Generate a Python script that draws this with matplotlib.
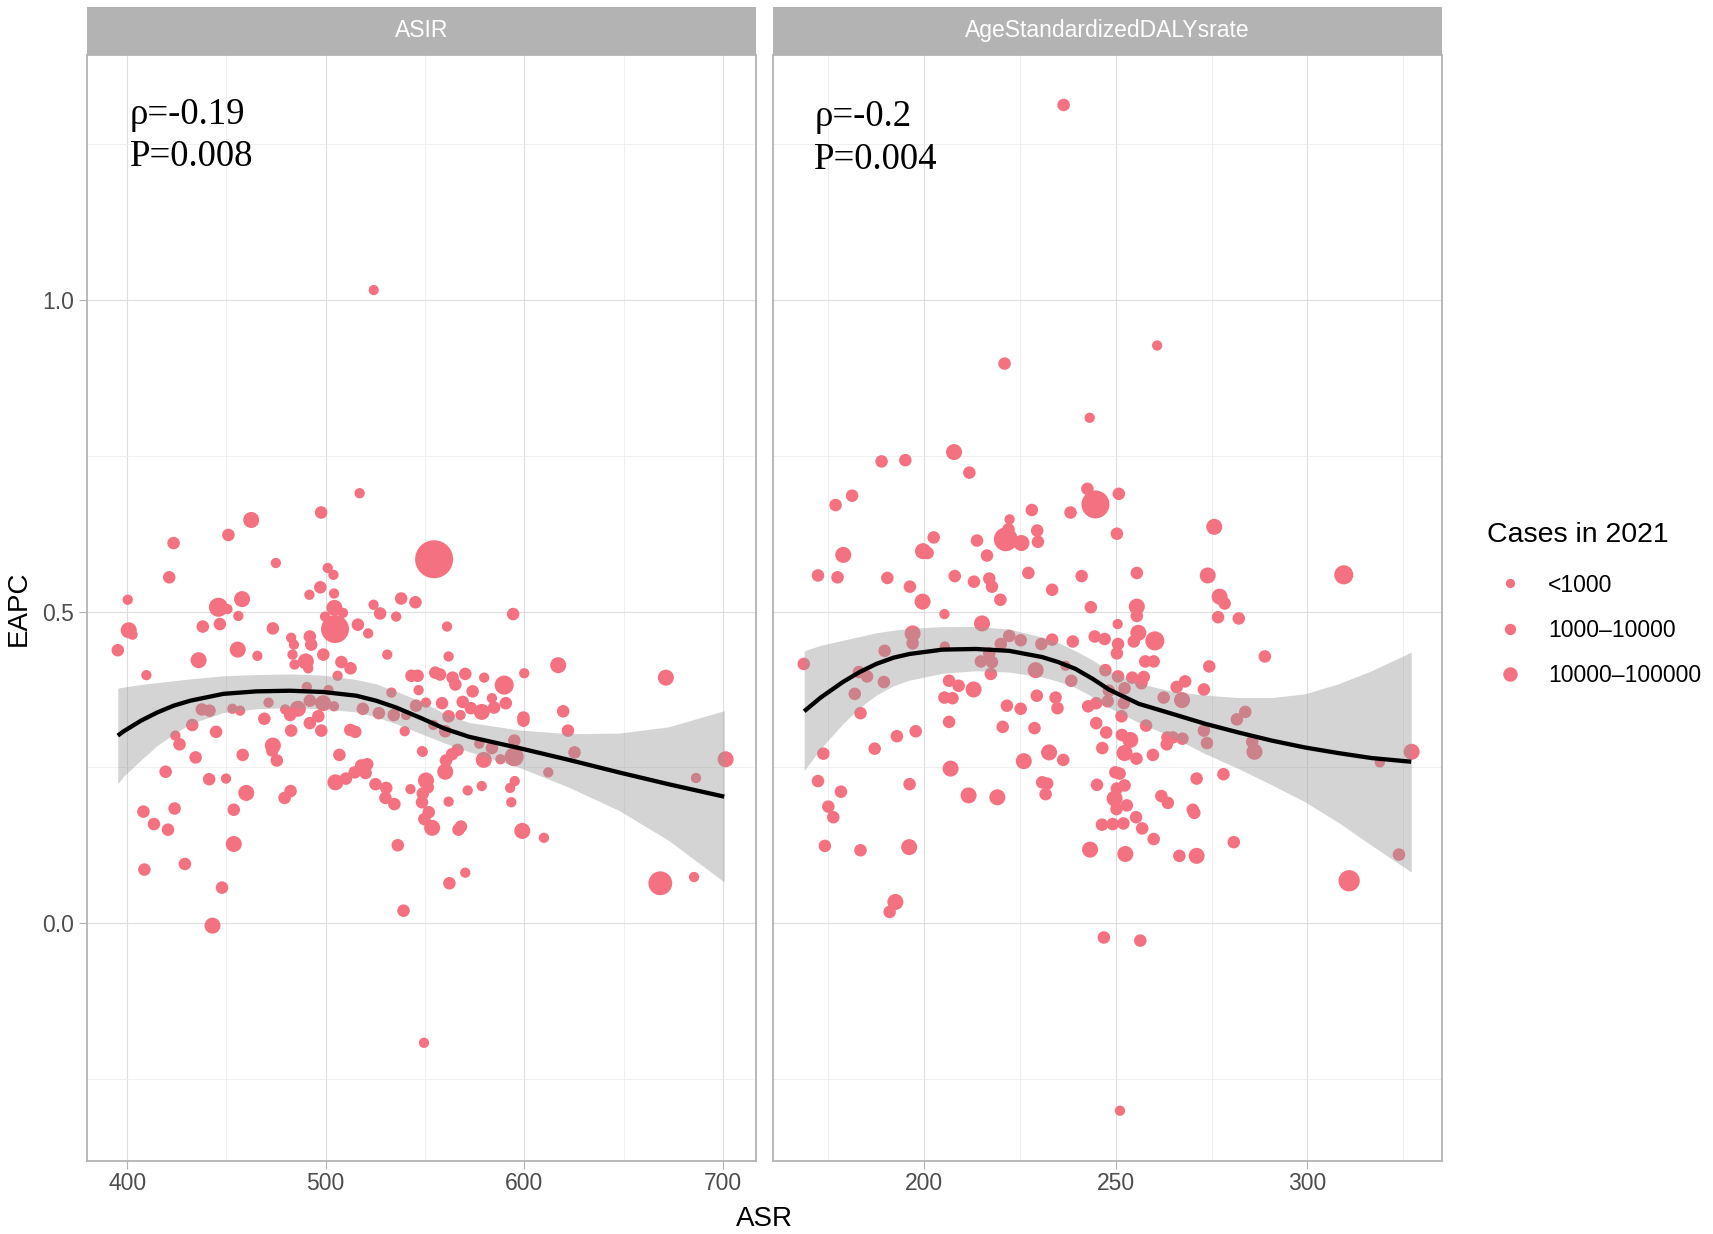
import numpy as np
import matplotlib
matplotlib.use('Agg')
import matplotlib.pyplot as plt
from matplotlib.lines import Line2D

# ---- ASIR panel: ASR vs EAPC, cases in 2021 ----
asir_x = [517.1, 497.7, 462.5, 451.0, 423.4, 474.9, 421.2, 501.0, 503.9, 554.6,
          497.3, 491.8, 504.2, 400.3, 446.0, 450.5, 457.9, 456.0, 524.1, 538.0,
          545.2, 527.4, 535.5, 504.4, 508.7, 499.7, 504.7, 516.2, 521.4, 400.8,
          402.7, 438.1, 446.7, 473.4, 395.3, 455.7, 436.0, 465.6, 482.6, 484.0,
          492.0, 492.7, 483.3, 490.0, 484.3, 491.2, 498.8, 507.9, 512.5, 506.0,
          531.0, 409.7, 543.2, 546.3, 546.8, 533.1, 490.5, 501.4, 471.2, 437.6,
          441.5, 453.0, 456.9, 479.6, 486.0, 492.0, 498.7, 504.2, 518.7, 526.8,
          534.3, 540.5, 545.5, 550.5, 432.8, 469.1, 482.1, 492.0, 496.3, 424.3,
          426.4, 444.8, 434.5, 419.4, 458.2, 473.4, 473.1, 475.4, 482.6, 497.8,
          512.4, 514.9, 539.8, 506.9, 548.5, 441.3, 449.8, 460.0, 479.3, 482.3,
          504.9, 510.2, 514.6, 517.9, 520.9, 520.1, 525.1, 530.5, 530.1, 534.6,
          542.7, 408.2, 423.9, 413.5, 420.6, 453.7, 453.7, 408.7, 429.1, 447.8,
          443.0, 536.3, 539.2, 554.2, 560.2, 548.9, 560.6, 563.6, 566.4, 560.2,
          577.3, 583.7, 579.6, 588.0, 595.0, 594.9, 599.6, 622.0, 625.3, 612.1,
          701.4, 686.5, 550.5, 551.4, 548.9, 548.5, 551.9, 549.7, 553.6, 561.9,
          571.5, 578.6, 595.2, 592.9, 593.5, 568.1, 566.9, 599.0, 609.9, 570.3,
          562.3, 668.5, 685.5, 594.4, 561.1, 561.9, 617.1, 600.0, 671.3, 555.2,
          557.6, 563.9, 570.3, 565.3, 579.8, 574.0, 589.9, 583.7, 569.0, 573.1,
          558.6, 584.8, 578.6, 590.7, 561.9, 567.9, 599.6, 619.6, 524.2, 549.5]
asir_eapc = [0.690, 0.659, 0.647, 0.623, 0.610, 0.578, 0.555, 0.570, 0.559, 0.584,
             0.539, 0.527, 0.529, 0.519, 0.507, 0.504, 0.520, 0.493, 0.511, 0.521,
             0.515, 0.497, 0.492, 0.506, 0.498, 0.492, 0.472, 0.479, 0.465, 0.470,
             0.463, 0.476, 0.480, 0.473, 0.438, 0.439, 0.422, 0.429, 0.458, 0.447,
             0.460, 0.447, 0.431, 0.420, 0.415, 0.409, 0.431, 0.419, 0.409, 0.397,
             0.431, 0.398, 0.397, 0.397, 0.374, 0.370, 0.379, 0.374, 0.354, 0.343,
             0.341, 0.344, 0.341, 0.343, 0.344, 0.357, 0.353, 0.348, 0.344, 0.337,
             0.334, 0.334, 0.349, 0.354, 0.318, 0.328, 0.334, 0.321, 0.332, 0.301,
             0.287, 0.307, 0.266, 0.243, 0.270, 0.285, 0.277, 0.261, 0.309, 0.309,
             0.310, 0.307, 0.308, 0.270, 0.276, 0.231, 0.232, 0.209, 0.201, 0.212,
             0.226, 0.232, 0.242, 0.253, 0.255, 0.241, 0.223, 0.217, 0.201, 0.191,
             0.215, 0.179, 0.184, 0.159, 0.150, 0.182, 0.127, 0.086, 0.095, 0.057,
             -0.004, 0.125, 0.020, 0.318, 0.308, 0.275, 0.261, 0.271, 0.278, 0.243,
             0.288, 0.281, 0.262, 0.263, 0.293, 0.267, 0.325, 0.309, 0.274, 0.242,
             0.263, 0.233, 0.229, 0.218, 0.208, 0.194, 0.178, 0.167, 0.153, 0.195,
             0.213, 0.220, 0.228, 0.217, 0.194, 0.155, 0.150, 0.148, 0.137, 0.081,
             0.064, 0.064, 0.074, 0.496, 0.476, 0.428, 0.414, 0.401, 0.394, 0.402,
             0.399, 0.394, 0.400, 0.383, 0.394, 0.372, 0.382, 0.361, 0.355, 0.345,
             0.353, 0.346, 0.339, 0.353, 0.332, 0.334, 0.330, 0.340, 1.016, -0.192]
asir_cases = [500, 3000, 20000, 3000, 3000, 500, 3000, 500, 500, 100000,
              3000, 500, 500, 500, 30000, 500, 20000, 500, 500, 3000,
              3000, 3000, 500, 20000, 500, 500, 63000, 3000, 500, 20000,
              500, 3000, 3000, 3000, 3000, 20000, 20000, 500, 500, 500,
              3000, 3000, 500, 20000, 500, 500, 3000, 3000, 3000, 500,
              500, 500, 3000, 3000, 500, 500, 500, 500, 500, 3000,
              3000, 500, 500, 500, 20000, 3000, 20000, 500, 3000, 3000,
              3000, 500, 3000, 500, 3000, 3000, 3000, 3000, 3000, 500,
              3000, 3000, 3000, 3000, 3000, 20000, 3000, 3000, 3000, 3000,
              3000, 3000, 500, 3000, 500, 3000, 500, 20000, 3000, 3000,
              20000, 3000, 3000, 3000, 3000, 3000, 3000, 3000, 3000, 3000,
              500, 3000, 3000, 3000, 3000, 3000, 20000, 3000, 3000, 3000,
              20000, 3000, 3000, 500, 3000, 500, 3000, 3000, 3000, 20000,
              500, 3000, 20000, 500, 3000, 30000, 3000, 3000, 3000, 500,
              20000, 500, 20000, 3000, 3000, 3000, 3000, 3000, 20000, 500,
              500, 500, 500, 500, 500, 3000, 3000, 20000, 500, 500,
              3000, 52000, 500, 3000, 500, 500, 20000, 500, 20000, 3000,
              3000, 3000, 3000, 3000, 500, 3000, 30000, 500, 3000, 3000,
              3000, 3000, 20000, 3000, 3000, 500, 3000, 3000, 500, 500]

# loess fit and 95% band
asir_fit_x = [395.3, 398.3, 407.0, 415.1, 423.4, 431.8, 448.5, 465.2, 482.0, 498.7, 515.4,
              525.4, 535.5, 548.8, 560.0, 572.3, 597.4, 622.5, 647.6, 672.6, 700.7]
asir_fit = [0.301, 0.308, 0.325, 0.338, 0.349, 0.357, 0.368, 0.372, 0.373, 0.371, 0.365,
            0.357, 0.346, 0.328, 0.312, 0.299, 0.281, 0.262, 0.242, 0.223, 0.203]
asir_hi = [0.377, 0.379, 0.383, 0.386, 0.389, 0.392, 0.397, 0.399, 0.400, 0.398, 0.391,
           0.384, 0.372, 0.355, 0.336, 0.322, 0.310, 0.304, 0.305, 0.315, 0.341]
asir_lo = [0.224, 0.236, 0.262, 0.285, 0.303, 0.320, 0.338, 0.344, 0.346, 0.344, 0.339,
           0.331, 0.320, 0.303, 0.289, 0.275, 0.250, 0.218, 0.181, 0.133, 0.066]

# ---- DALY panel ----
daly_x = [207.8, 188.9, 195.1, 211.8, 181.2, 176.9, 242.6, 244.7, 228.1, 238.2,
          250.8, 222.3, 221.3, 222.0, 225.4, 229.5, 229.7, 213.8, 202.5, 199.7,
          200.9, 178.9, 216.4, 172.3, 177.4, 190.4, 196.3, 199.6, 208.0, 213.0,
          217.0, 217.7, 219.9, 227.2, 233.4, 241.1, 243.5, 205.3, 215.1, 197.0,
          197.0, 189.7, 168.6, 222.2, 225.2, 220.0, 230.6, 233.4, 238.8, 244.5,
          247.1, 250.5, 205.4, 217.0, 214.8, 217.7, 217.4, 183.0, 185.1, 189.5,
          229.1, 238.4, 247.3, 236.9, 206.5, 209.0, 212.9, 181.9, 205.3, 207.4,
          229.4, 234.3, 248.2, 183.4, 221.6, 225.2, 234.8, 242.8, 244.9, 247.9,
          206.5, 220.5, 228.8, 244.9, 247.5, 192.9, 197.8, 187.1, 173.7, 206.9,
          226.0, 232.6, 236.3, 246.5, 172.3, 178.3, 196.2, 230.8, 232.1, 231.7,
          211.6, 219.1, 245.1, 175.0, 176.3, 174.1, 183.4, 196.1, 243.3, 246.4,
          192.5, 191.0, 246.9, 250.3, 275.7, 255.5, 274.0, 309.5, 255.5, 255.5,
          277.1, 278.4, 276.7, 282.1, 255.9, 254.7, 250.6, 250.3, 260.2, 257.7,
          259.9, 288.9, 274.4, 250.6, 254.3, 257.3, 256.7, 252.3, 268.1, 265.9,
          273.0, 262.5, 267.3, 252.1, 251.5, 257.9, 251.6, 253.8, 252.3, 255.4,
          259.7, 263.5, 264.9, 263.3, 267.4, 273.0, 273.8, 281.6, 283.8, 285.6,
          286.2, 327.2, 318.9, 249.9, 251.0, 252.3, 250.3, 249.7, 250.2, 252.9,
          249.2, 252.0, 255.3, 256.9, 259.9, 252.5, 271.1, 278.1, 261.9, 263.6,
          270.1, 270.5, 266.6, 271.1, 280.8, 310.9, 323.9, 256.4, 236.4, 221.0,
          260.8, 243.2, 251.1]
daly_eapc = [0.756, 0.741, 0.743, 0.723, 0.686, 0.671, 0.697, 0.672, 0.663, 0.659,
             0.689, 0.648, 0.616, 0.632, 0.610, 0.630, 0.612, 0.614, 0.619, 0.597,
             0.594, 0.591, 0.590, 0.558, 0.555, 0.554, 0.540, 0.516, 0.557, 0.548,
             0.553, 0.540, 0.519, 0.562, 0.535, 0.557, 0.507, 0.496, 0.481, 0.465,
             0.449, 0.437, 0.416, 0.461, 0.454, 0.448, 0.448, 0.455, 0.452, 0.460,
             0.456, 0.480, 0.444, 0.433, 0.420, 0.419, 0.400, 0.403, 0.396, 0.387,
             0.406, 0.389, 0.406, 0.413, 0.389, 0.381, 0.375, 0.368, 0.362, 0.361,
             0.365, 0.362, 0.373, 0.337, 0.349, 0.344, 0.345, 0.348, 0.353, 0.356,
             0.323, 0.315, 0.313, 0.321, 0.306, 0.300, 0.308, 0.280, 0.272, 0.248,
             0.260, 0.274, 0.262, 0.281, 0.228, 0.211, 0.223, 0.226, 0.224, 0.207,
             0.205, 0.202, 0.222, 0.187, 0.170, 0.124, 0.117, 0.122, 0.118, 0.158,
             0.034, 0.018, -0.023, 0.625, 0.636, 0.562, 0.558, 0.559, 0.508, 0.493,
             0.524, 0.513, 0.491, 0.489, 0.466, 0.452, 0.448, 0.433, 0.453, 0.420,
             0.420, 0.428, 0.412, 0.396, 0.394, 0.395, 0.385, 0.377, 0.388, 0.379,
             0.375, 0.362, 0.358, 0.353, 0.332, 0.317, 0.302, 0.294, 0.273, 0.264,
             0.270, 0.298, 0.298, 0.287, 0.296, 0.309, 0.289, 0.327, 0.339, 0.291,
             0.275, 0.275, 0.258, 0.242, 0.240, 0.221, 0.216, 0.200, 0.183, 0.189,
             0.159, 0.160, 0.170, 0.152, 0.135, 0.111, 0.232, 0.239, 0.204, 0.193,
             0.182, 0.177, 0.108, 0.108, 0.130, 0.068, 0.110, -0.028, 1.313, 0.898,
             0.927, 0.811, -0.301]
daly_cases = [20000, 3000, 3000, 3000, 3000, 3000, 3000, 63000, 3000, 3000,
              3000, 500, 52000, 3000, 20000, 3000, 3000, 3000, 3000, 20000,
              3000, 20000, 3000, 3000, 3000, 3000, 3000, 20000, 3000, 3000,
              3000, 3000, 3000, 3000, 3000, 3000, 3000, 500, 20000, 20000,
              3000, 3000, 3000, 3000, 3000, 3000, 3000, 3000, 3000, 3000,
              3000, 500, 500, 3000, 3000, 3000, 3000, 3000, 3000, 3000,
              20000, 3000, 3000, 500, 3000, 3000, 20000, 3000, 3000, 3000,
              3000, 3000, 3000, 3000, 3000, 3000, 3000, 3000, 3000, 3000,
              3000, 3000, 3000, 3000, 3000, 3000, 3000, 3000, 3000, 20000,
              20000, 20000, 3000, 3000, 3000, 3000, 3000, 3000, 3000, 3000,
              20000, 20000, 3000, 3000, 3000, 3000, 3000, 20000, 20000, 3000,
              20000, 3000, 3000, 3000, 20000, 3000, 20000, 30000, 20000, 3000,
              20000, 3000, 3000, 3000, 20000, 3000, 3000, 3000, 30000, 3000,
              3000, 3000, 3000, 3000, 3000, 3000, 3000, 3000, 3000, 3000,
              3000, 3000, 20000, 3000, 3000, 3000, 3000, 20000, 20000, 3000,
              3000, 3000, 3000, 3000, 3000, 3000, 3000, 3000, 3000, 3000,
              20000, 20000, 500, 3000, 3000, 3000, 3000, 20000, 3000, 3000,
              3000, 3000, 3000, 3000, 3000, 20000, 3000, 3000, 3000, 3000,
              3000, 3000, 3000, 20000, 3000, 40000, 3000, 3000, 3000, 3000,
              500, 500, 500]

daly_fit_x = [168.7, 173.0, 178.8, 183.2, 187.5, 192.0, 196.2, 204.8, 213.5, 222.2, 230.8, 235.0,
              239.5, 244.0, 248.2, 256.0, 264.7, 273.3, 282.0, 290.7, 299.3, 308.0, 316.7, 327.1]
daly_fit = [0.340, 0.362, 0.387, 0.403, 0.416, 0.426, 0.432, 0.439, 0.440, 0.437, 0.427, 0.419,
            0.408, 0.392, 0.375, 0.352, 0.336, 0.320, 0.306, 0.293, 0.282, 0.273, 0.265, 0.259]
daly_hi = [0.437, 0.446, 0.454, 0.460, 0.466, 0.470, 0.473, 0.476, 0.476, 0.472, 0.459, 0.450,
           0.437, 0.422, 0.405, 0.385, 0.372, 0.366, 0.362, 0.362, 0.368, 0.384, 0.405, 0.435]
daly_lo = [0.245, 0.280, 0.320, 0.346, 0.366, 0.381, 0.390, 0.401, 0.405, 0.403, 0.395, 0.388,
           0.378, 0.363, 0.346, 0.322, 0.299, 0.272, 0.248, 0.222, 0.195, 0.162, 0.125, 0.082]

legend_labels = ['<1000', '1000\u201310000', '10000\u2013100000']
legend_cases = [500, 3000, 20000]

PINK = '#F37180'
W, H = 1713, 1234


def case_size(cases):
    # diameter in pixels grows with log10(cases), like a ggplot size scale
    d_px = np.interp(np.log10(cases), [2.7, 3.5, 4.3, 4.7, 5.0], [10.3, 12.6, 16.0, 23.0, 38.0])
    return d_px * 72 / 100


def yfrac(px):
    return 1 - px / H


fig = plt.figure(figsize=(W / 100, H / 100), dpi=100)
ax1 = fig.add_axes([87.4 / W, yfrac(1161), 668.6 / W, (1161 - 54.7) / H])
ax2 = fig.add_axes([773.4 / W, yfrac(1161), 668.6 / W, (1161 - 54.7) / H], sharey=ax1)

panels = [
    (ax1, asir_x, asir_eapc, asir_cases, asir_fit_x, asir_fit, asir_lo, asir_hi,
     'ASIR', [400, 500, 600, 700], [450, 550, 650], 401.5, 0.0, ['\u03c1=-0.19', 'P=0.008']),
    (ax2, daly_x, daly_eapc, daly_cases, daly_fit_x, daly_fit, daly_lo, daly_hi,
     'AgeStandardizedDALYsrate', [200, 250, 300], [175, 225, 275, 325], 171.3, 0.004,
     ['\u03c1=-0.2', 'P=0.004']),
]

all_y = asir_eapc + daly_eapc
ylo, yhi = min(all_y), max(all_y)
ypad = 0.05 * (yhi - ylo)

for ax, x, y, cases, fx, fy, flo, fhi, strip, xt, xm, tx, tdy, lines in panels:
    sizes = case_size(np.array(cases, dtype=float)) ** 2
    ax.scatter(x, y, s=sizes, color=PINK, edgecolors='none', zorder=2)
    ax.fill_between(fx, flo, fhi, color='#999999', alpha=0.42, linewidth=0, zorder=3)
    ax.plot(fx, fy, color='black', lw=3.1, zorder=4, solid_capstyle='butt')

    xpad = 0.05 * (max(x) - min(x))
    ax.set_xlim(min(x) - xpad, max(x) + xpad)
    ax.set_ylim(ylo - ypad, yhi + ypad)
    ax.set_xticks(xt)
    ax.set_xticks(xm, minor=True)
    ax.set_yticks([0.0, 0.5, 1.0])
    ax.set_yticks([-0.25, 0.25, 0.75, 1.25], minor=True)
    ax.set_yticklabels(['0.0', '0.5', '1.0'])
    ax.set_axisbelow(True)
    ax.grid(which='major', color='#DEDEDE', lw=0.8)
    ax.grid(which='minor', color='#ECECEC', lw=0.6)
    for sp in ax.spines.values():
        sp.set_color('#B3B3B3')
        sp.set_linewidth(1.3)
    ax.tick_params(which='major', length=5.5, width=0.8, color='#B3B3B3',
                   labelsize=16.5, labelcolor='#4D4D4D')
    ax.tick_params(axis='x', which='major', pad=2.5)
    ax.tick_params(axis='y', which='major', pad=4)
    ax.tick_params(which='minor', length=0)
    for lab in ax.get_xticklabels() + ax.get_yticklabels():
        lab.set_fontfamily('Liberation Sans')

    ax.text(tx, 1.2825 - tdy, lines[0], family='Liberation Serif', fontsize=26.5, va='baseline')
    ax.text(tx, 1.215 - tdy, lines[1], family='Liberation Serif', fontsize=26.5, va='baseline')

    pos = ax.get_position()
    sax = fig.add_axes([pos.x0, yfrac(54.7), pos.width, (54.7 - 6.5) / H])
    sax.set_facecolor('#B3B3B3')
    sax.set_xticks([])
    sax.set_yticks([])
    for sp in sax.spines.values():
        sp.set_visible(False)
    sax.text(0.5, 0.5, strip, transform=sax.transAxes, ha='center', va='center',
             color='white', fontsize=16.5, family='Liberation Sans')

ax2.tick_params(axis='y', labelleft=False, length=0)

fig.text(764.7 / W, yfrac(1226), 'ASR', ha='center', va='baseline', fontsize=20,
         family='Liberation Sans')
fig.text(18.6 / W, yfrac(608), 'EAPC', ha='center', va='center', rotation=90, fontsize=20,
         family='Liberation Sans')

# size legend
fig.text(1486.7 / W, yfrac(542.3), 'Cases in 2021', fontsize=20.5, family='Liberation Sans',
         va='baseline')
for i, (lab, c) in enumerate(zip(legend_labels, legend_cases)):
    cy = 583.3 + i * 45.4
    fig.add_artist(Line2D([1510 / W], [yfrac(cy)], marker='o', markersize=case_size(c) * 0.9,
                          markerfacecolor=PINK, markeredgecolor='none', linestyle='none',
                          transform=fig.transFigure))
    fig.text(1548.3 / W, yfrac(cy + 8.3), lab, fontsize=16.5, family='Liberation Sans',
             va='baseline')

fig.savefig('out.png', dpi=100)
